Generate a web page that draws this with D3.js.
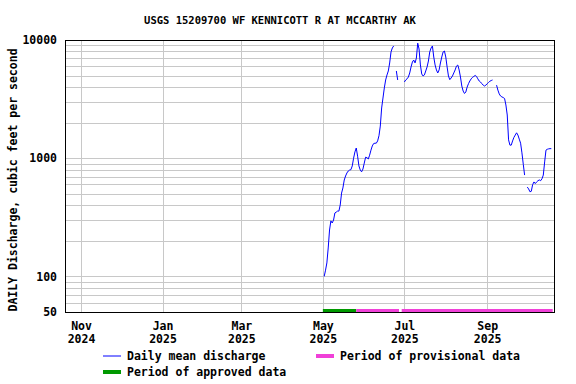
<!DOCTYPE html>
<html>
<head>
<meta charset="utf-8">
<script src="https://cdn.jsdelivr.net/npm/d3@7"></script>
<style>
  body { margin: 0; background: #fff; }
  text { font-family: "DejaVu Sans Mono", monospace; font-weight: bold; fill: #000; }
</style>
</head>
<body>
<svg width="576" height="384"></svg>
<script>
const title = 'USGS 15209700 WF KENNICOTT R AT MCCARTHY AK';
const yLabel = 'DAILY Discharge, cubic feet per second';

// daily mean discharge, one value per day starting at firstDay (null = no data)
const firstDay = '2025-05-02';
const discharge = [
  100, 113, 130, 174, 247, 295, 283, 300, 344, 350,
  357, 357, 402, 507, 560, 654, 707, 750, 779, 794,
  800, 860, 1000, 1130, 1220, 1040, 860, 794, 767, 810,
  910, 1020, 1010, 985, 1060, 1170, 1270, 1330, 1340, 1340,
  1400, 1550, 1870, 2660, 3230, 3930, 4590, 5060, 5470, 6390,
  7920, 8560, 8900, null, 5470, 4590, null, null, null, null,
  4410, 4590, 4690, 4860, 5260, 5910, 6510, 6770, 6400, 7040,
  9400, 8390, 6150, 5160, 4960, 5060, 5470, 5910, 6640, 7920,
  8560, 8900, 7180, 6150, 5580, 5260, 5580, 6390, 7180, 7920,
  8070, 7180, 5910, 4960, 4620, 4770, 4960, 5260, 5580, 6020,
  6140, 5580, 4860, 4080, 3700, 3530, 3630, 4000, 4270, 4500,
  4690, 4830, 4920, 5010, 4920, 4690, 4500, 4410, 4270, 4150,
  4080, 4150, 4270, 4370, 4480, 4540, 4590, null, null, 4150,
  3770, 3500, 3360, 3300, 3260, 3200, 2820, 2320, 1430, 1290,
  1290, 1400, 1500, 1570, 1640, 1570, 1450, 1340, 1110, 890,
  720, null, 570, 550, 520, 525, 597, 630, 610, 630,
  645, 655, 645, 670, 720, 930, 1170, 1190, 1200, 1205,
  1205
];

const approvedPeriods = [['2025-05-01', '2025-05-26']];
const provisionalPeriods = [['2025-05-26', '2025-06-27'], ['2025-06-29', '2025-10-20']];

const xTicks = ['2024-11-01', '2025-01-01', '2025-03-01', '2025-05-01', '2025-07-01', '2025-09-01'];
const yTicks = [50, 100, 1000, 10000];
const yGrid = [60, 70, 80, 90, 100, 200, 300, 400, 500, 600, 700, 800, 900,
  1000, 2000, 3000, 4000, 5000, 6000, 7000, 8000, 9000];

const parse = d3.utcParse('%Y-%m-%d');
const plot = { left: 65, right: 554, top: 40, bottom: 312 };

const x = d3.scaleUtc()
  .domain([parse('2024-10-20'), parse('2025-10-21')])
  .range([plot.left, plot.right]);
const y = d3.scaleLog().domain([50, 10000]).range([plot.bottom, plot.top]);

const svg = d3.select('svg');

// grid
svg.append('g')
  .selectAll('line')
  .data(yGrid)
  .join('line')
  .attr('x1', plot.left).attr('x2', plot.right)
  .attr('y1', d => Math.round(y(d)) + 0.5)
  .attr('y2', d => Math.round(y(d)) + 0.5)
  .attr('stroke', '#c8c8c8');

svg.append('g')
  .selectAll('line')
  .data(xTicks.map(parse))
  .join('line')
  .attr('x1', d => Math.round(x(d)) + 0.5)
  .attr('x2', d => Math.round(x(d)) + 0.5)
  .attr('y1', plot.top).attr('y2', plot.bottom)
  .attr('stroke', '#c8c8c8');

// period bars
const periodBar = (periods, color) => svg.append('g')
  .selectAll('rect')
  .data(periods)
  .join('rect')
  .attr('x', d => x(parse(d[0])))
  .attr('width', d => x(parse(d[1])) - x(parse(d[0])))
  .attr('y', plot.bottom - 3)
  .attr('height', 3)
  .attr('fill', color);
periodBar(approvedPeriods, '#009900');
periodBar(provisionalPeriods, '#f040d8');

// discharge line
const start = parse(firstDay);
const series = discharge.map((v, i) => ({ date: d3.utcDay.offset(start, i), value: v }));
const line = d3.line()
  .defined(d => d.value != null)
  .x(d => x(d.date))
  .y(d => y(d.value));

svg.append('path')
  .datum(series)
  .attr('d', line)
  .attr('fill', 'none')
  .attr('stroke', '#0000ff')
  .attr('stroke-width', 1);

// frame
svg.append('rect')
  .attr('x', plot.left + 0.5).attr('y', plot.top + 0.5)
  .attr('width', plot.right - plot.left).attr('height', plot.bottom - plot.top)
  .attr('fill', 'none')
  .attr('stroke', '#000');

// y axis
const yAxis = svg.append('g')
  .attr('transform', `translate(${plot.left},0)`)
  .call(d3.axisLeft(y).tickValues(yTicks).tickFormat(d3.format('d')).tickSize(0).tickPadding(8));
yAxis.select('.domain').remove();
yAxis.attr('font-family', null).attr('font-size', null);
yAxis.selectAll('text').style('font-size', '11.5px');

// x axis, two-line labels
const xAxis = svg.append('g')
  .attr('transform', `translate(0,${plot.bottom})`)
  .call(d3.axisBottom(x).tickValues(xTicks.map(parse)).tickSize(0).tickFormat(''));
xAxis.select('.domain').remove();
xAxis.attr('font-family', null).attr('font-size', null);
xAxis.selectAll('.tick').append('text')
  .attr('text-anchor', 'middle')
  .style('font-size', '11.5px')
  .selectAll('tspan')
  .data(d => [d3.utcFormat('%b')(d), d3.utcFormat('%Y')(d)])
  .join('tspan')
  .attr('x', 0)
  .attr('y', (d, i) => 18 + i * 13)
  .text(d => d);

// title and y label
svg.append('text')
  .attr('x', 280).attr('y', 24)
  .attr('text-anchor', 'middle')
  .style('font-size', '10.5px')
  .text(title);

svg.append('text')
  .attr('transform', 'translate(12.5,180) rotate(-90)')
  .attr('text-anchor', 'middle')
  .attr('dominant-baseline', 'central')
  .style('font-size', '11.5px')
  .text(yLabel);

// legend
const legendItems = [
  { label: 'Daily mean discharge', color: '#0000ff', width: 1, x: 103, y: 356 },
  { label: 'Period of provisional data', color: '#f040d8', width: 4, x: 316, y: 356 },
  { label: 'Period of approved data', color: '#009900', width: 4, x: 103, y: 372 }
];
const legend = svg.append('g')
  .selectAll('g')
  .data(legendItems)
  .join('g')
  .attr('transform', d => `translate(${d.x},${d.y})`);
legend.append('line')
  .attr('x1', 0).attr('x2', 18)
  .attr('y1', 0).attr('y2', 0)
  .attr('stroke', d => d.color)
  .attr('stroke-width', d => d.width);
legend.append('text')
  .attr('x', 24)
  .attr('dominant-baseline', 'central')
  .style('font-size', '11.5px')
  .text(d => d.label);
</script>
</body>
</html>
